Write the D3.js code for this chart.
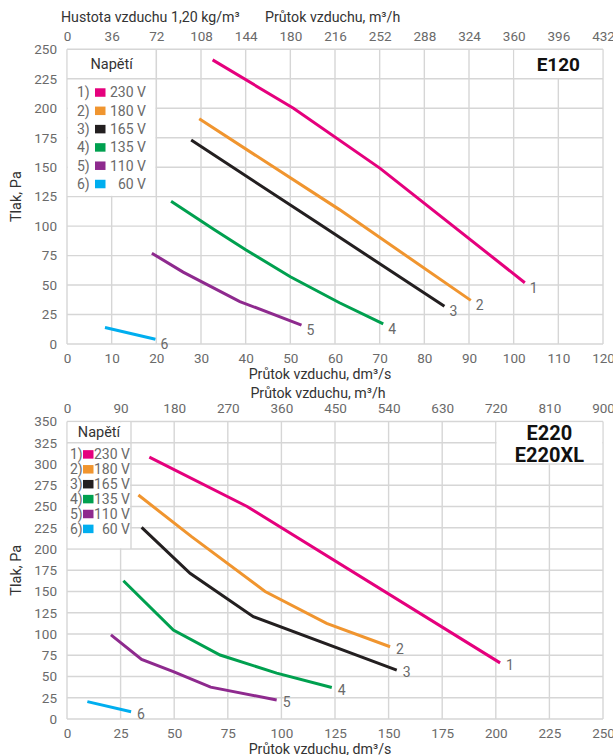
<!DOCTYPE html>
<html><head><meta charset="utf-8">
<script src="https://cdn.jsdelivr.net/npm/d3@7"></script>
<style>
body{margin:0;background:#fff}
svg{display:block}
text{font-family:Roboto,"Noto Sans",sans-serif}
</style>
</head><body>
<svg id="c" width="613" height="755"></svg>
<script>
// ---------- DATA ----------
const voltageLabels = ["230 V", "180 V", "165 V", "135 V", "110 V", "60 V"];
const seriesNumbers = ["1", "2", "3", "4", "5", "6"];

// E120: flow dm3/s vs pressure Pa
const e120_230V = [[32.6, 241], [50.7, 200], [70.1, 149], [102.5, 52]];
const e120_180V = [[29.6, 191], [61, 114], [90.4, 37]];
const e120_165V = [[27.8, 173], [56, 103], [84.5, 32]];
const e120_135V = [[23.3, 121], [33, 97], [40, 80], [50, 57], [61, 35], [70.8, 17]];
const e120_110V = [[19, 77], [26, 61], [38.7, 36], [52.5, 16]];
const e120_60V  = [[8.5, 14], [19.8, 4]];

// E220 / E220XL
const e220_230V = [[38.4, 308], [84, 250], [202, 66]];
const e220_180V = [[33.3, 263.5], [58.1, 214.5], [92.4, 150], [121.1, 112.5], [150.7, 85]];
const e220_165V = [[34.8, 225.5], [57.4, 171.4], [86.9, 120.4], [153.8, 57.6]];
const e220_135V = [[26.3, 162.7], [49.6, 104.7], [71.4, 75.3], [97.8, 54], [123.5, 37]];
const e220_110V = [[20.5, 99], [34.8, 70], [49.6, 55.7], [67, 37.5], [97.8, 22.4]];
const e220_60V  = [[9.5, 20.4], [29.9, 8.6]];

// tick values
const e120XTicks   = [0, 10, 20, 30, 40, 50, 60, 70, 80, 90, 100, 110, 120];
const e120TopTicks = [0, 36, 72, 108, 144, 180, 216, 252, 288, 324, 360, 396, 432];
const e120YTicks   = [0, 25, 50, 75, 100, 125, 150, 175, 200, 225, 250];
const e220XTicks   = [0, 25, 50, 75, 100, 125, 150, 175, 200, 225, 250];
const e220TopTicks = [0, 90, 180, 270, 360, 450, 540, 630, 720, 810, 900];
const e220YTicks   = [0, 25, 50, 75, 100, 125, 150, 175, 200, 225, 250, 275, 300, 325, 350];

// texts
const densityTitle = "Hustota vzduchu 1,20 kg/m³";
const flowM3hTitle = "Průtok vzduchu, m³/h";
const flowDm3sTitle = "Průtok vzduchu, dm³/s";
const pressureTitle = "Tlak, Pa";
const legendTitle = "Napětí";

// ---------- STYLE ----------
const colors = ["#e5007d", "#f0952f", "#231f20", "#00a04f", "#8e2a8e", "#00aeef"];
const gridColor = "#d6d6d6";
const tickColor = "#6a6a6a";
const titleColor = "#333333";

const svg = d3.select("#c");

function drawChart(cfg) {
  const g = svg.append("g");
  const x = d3.scaleLinear().domain([0, cfg.xTicks[cfg.xTicks.length - 1]]).range([67, 603]);
  const xTop = d3.scaleLinear().domain([0, cfg.topTicks[cfg.topTicks.length - 1]]).range([67, 603]);
  const y = d3.scaleLinear().domain([0, cfg.yTicks[cfg.yTicks.length - 1]]).range([cfg.bottom, cfg.top]);

  // grid
  const grid = g.append("g").attr("stroke", gridColor).attr("stroke-width", 1.4);
  grid.selectAll("line.v").data(cfg.xTicks).join("line")
    .attr("x1", d => x(d)).attr("x2", d => x(d))
    .attr("y1", y.range()[0]).attr("y2", y.range()[1]);
  grid.selectAll("line.h").data(cfg.yTicks).join("line").attr("class", "h")
    .attr("x1", x.range()[0]).attr("x2", x.range()[1])
    .attr("y1", d => y(d)).attr("y2", d => y(d));

  // legend box
  const lx0 = x(0), lx1 = x(cfg.legendX), ly0 = y(cfg.yTicks[cfg.yTicks.length - 1]), ly1 = y(cfg.legendY);
  g.append("rect").attr("x", lx0 + 0.8).attr("y", ly0 + 0.8)
    .attr("width", lx1 - lx0 - 1.6).attr("height", ly1 - ly0 - 1.6).attr("fill", "#fff");
  const sepY = y(cfg.yTicks[cfg.yTicks.length - 2]);
  g.append("line").attr("x1", lx0).attr("x2", lx1).attr("y1", sepY).attr("y2", sepY)
    .attr("stroke", gridColor).attr("stroke-width", 1.4);
  g.append("line").attr("x1", lx1).attr("x2", lx1).attr("y1", ly0).attr("y2", ly1)
    .attr("stroke", gridColor).attr("stroke-width", 1.4);

  g.append("text").attr("x", (lx0 + lx1) / 2).attr("y", (ly0 + sepY) / 2 + 5)
    .attr("text-anchor", "middle").attr("font-size", 14.5).attr("fill", titleColor).text(legendTitle);
  voltageLabels.forEach((v, i) => {
    const cy = sepY + cfg.legRow0 + i * cfg.legStep;
    g.append("text").attr("x", lx0 + cfg.legNumX).attr("y", cy + 5)
      .attr("font-size", 14).attr("fill", tickColor).text(seriesNumbers[i] + ")");
    g.append("rect").attr("x", lx0 + cfg.legSqX).attr("y", cy - 4.2)
      .attr("width", 10.5).attr("height", 8.5).attr("fill", colors[i]);
    g.append("text").attr("x", lx0 + cfg.legValX).attr("y", cy + 5)
      .attr("text-anchor", "end").attr("font-size", 14).attr("fill", tickColor).text(v);
  });

  // name box (top right)
  const nx0 = x(cfg.nameX), nx1 = x.range()[1], ny0 = ly0, ny1 = y(cfg.nameY);
  g.append("rect").attr("x", nx0 + 0.8).attr("y", ny0 + 0.8)
    .attr("width", nx1 - nx0 - 1.6).attr("height", ny1 - ny0 - 1.6).attr("fill", "#fff");
  cfg.names.forEach((n, i) => {
    g.append("text").attr("x", (nx0 + nx1) / 2).attr("y", ny0 + cfg.nameBase + i * cfg.nameStep)
      .attr("text-anchor", "middle").attr("font-size", cfg.nameSize).attr("font-weight", 700)
      .attr("fill", "#111").text(n);
  });

  // series
  const line = d3.line().x(d => x(d[0])).y(d => y(d[1]));
  cfg.series.forEach((s, i) => {
    g.append("path").datum(s).attr("d", line).attr("fill", "none")
      .attr("stroke", colors[i]).attr("stroke-width", 3);
    const e = s[s.length - 1];
    g.append("text").attr("x", x(e[0]) + cfg.lblDx).attr("y", y(e[1]) + cfg.lblDy)
      .attr("font-size", 14).attr("fill", tickColor).text(seriesNumbers[i]);
  });

  // axes
  const yAxis = g.append("g").attr("transform", `translate(${x.range()[0]},0)`)
    .call(d3.axisLeft(y).tickValues(cfg.yTicks).tickSize(0).tickPadding(10).tickFormat(d3.format("d")));
  const xAxis = g.append("g").attr("transform", `translate(0,${cfg.bottom})`)
    .call(d3.axisBottom(x).tickValues(cfg.xTicks).tickSize(0).tickPadding(9.5).tickFormat(d3.format("d")));
  const tAxis = g.append("g").attr("transform", `translate(0,${cfg.top})`)
    .call(d3.axisTop(xTop).tickValues(cfg.topTicks).tickSize(0).tickPadding(8.5).tickFormat(d3.format("d")));
  [yAxis, xAxis, tAxis].forEach(a => {
    a.select(".domain").remove();
    a.selectAll("text").attr("font-size", 13.5).attr("fill", tickColor).style("font-family", "Roboto");
  });

  // titles
  g.append("text").attr("x", 320).attr("y", cfg.bottom + 35.3).attr("text-anchor", "middle")
    .attr("font-size", 14.2).attr("fill", titleColor).text(flowDm3sTitle);
  g.append("text").attr("transform", `translate(21,${(cfg.top + cfg.bottom) / 2}) rotate(-90)`)
    .attr("text-anchor", "middle").attr("font-size", 14.5).attr("fill", titleColor).text(pressureTitle);
}

// E120
drawChart({
  top: 49.3, bottom: 344,
  xTicks: e120XTicks, topTicks: e120TopTicks, yTicks: e120YTicks,
  series: [e120_230V, e120_180V, e120_165V, e120_135V, e120_110V, e120_60V],
  legendX: 20, legendY: 125, legRow0: 13.7, legStep: 18.3, legNumX: 10, legSqX: 28, legValX: 79,
  nameX: 100, nameY: 225, names: ["E120"], nameBase: 22, nameStep: 0, nameSize: 19,
  lblDx: 5, lblDy: 10
});
// E220
drawChart({
  top: 421.5, bottom: 719,
  xTicks: e220XTicks, topTicks: e220TopTicks, yTicks: e220YTicks,
  series: [e220_230V, e220_180V, e220_165V, e220_135V, e220_110V, e220_60V],
  legendX: 29.85, legendY: 200, legRow0: 11.6, legStep: 14.9, legNumX: 3, legSqX: 16, legValX: 63,
  nameX: 200, nameY: 300, names: ["E220", "E220XL"], nameBase: 18, nameStep: 22, nameSize: 20,
  lblDx: 6, lblDy: 7
});

// header texts
svg.append("text").attr("x", 61).attr("y", 21.5).attr("font-size", 14.2).attr("fill", titleColor).text(densityTitle);
svg.append("text").attr("x", 265).attr("y", 21.5).attr("font-size", 14.2).attr("fill", titleColor).text(flowM3hTitle);
svg.append("text").attr("x", 318).attr("y", 398.3).attr("text-anchor", "middle").attr("font-size", 14.2).attr("fill", titleColor).text(flowM3hTitle);
</script>
</body></html>
